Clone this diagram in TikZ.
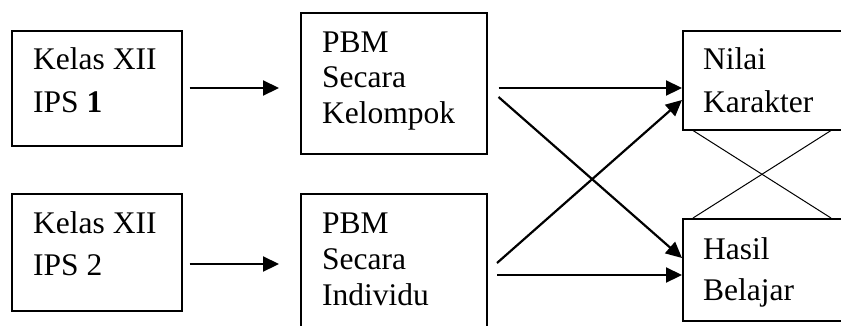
\documentclass[tikz,border=0pt]{standalone}
\usepackage{fontspec}
\setmainfont{Liberation Serif}
\usetikzlibrary{arrows.meta,calc}
\begin{document}
\begin{tikzpicture}[x=1pt,y=-1pt,
  boxx/.style={draw,line width=1.5pt,rectangle,inner sep=0pt,anchor=north west},
  txt/.style={anchor=base west,inner sep=0pt,align=left,font=\fontsize{31.5}{#1}\selectfont},
  txt/.default=43,
  arr/.style={line width=2.2pt,-{Triangle[length=16pt,width=15pt]}},
  thin/.style={line width=1pt}]
\useasboundingbox (0,0) rectangle (841,325);
\clip (0,0) rectangle (841,325);
% boxes
\node[boxx,minimum width=170pt,minimum height=115pt] (k1) at (11,30) {};
\node[boxx,minimum width=170pt,minimum height=117pt] (k2) at (11,193) {};
\node[boxx,minimum width=186pt,minimum height=141pt] (p1) at (300,12) {};
\node[boxx,minimum width=186pt,minimum height=150pt] (p2) at (300,193) {};
\node[boxx,minimum width=180pt,minimum height=99pt] (n) at (682,30) {};
\node[boxx,minimum width=180pt,minimum height=102pt] (h) at (682,218) {};
% texts (anchor = baseline of the last line)
\node[txt=43] (tk1) at (33,112) {Kelas XII\\IPS \textbf{1}};
\node[txt=42] (tk2) at (33,275) {Kelas XII\\IPS 2};
\node[txt=35.5] (tp1) at (322,123) {PBM\\Secara\\Kelompok};
\node[txt=36] (tp2) at (322,305) {PBM\\Secara\\Individu};
\node[txt=43] (tn) at (703,112) {Nilai\\Karakter};
\node[txt=41] (th) at (703,300) {Hasil\\Belajar};
% connector end points
\coordinate (a1s) at ($(k1.north east)+(7,58)$);
\coordinate (a2s) at ($(k2.north east)+(7,71)$);
\coordinate (b1s) at ($(p1.north east)+(11,76)$);
\coordinate (b2s) at ($(p1.north east)+(11,85)$);
\coordinate (b3s) at ($(p2.north west)+(197,70)$);
\coordinate (b4s) at ($(p2.north west)+(197,82)$);
% arrows
\draw[arr] (a1s) -- ($(a1s -| p1.west)+(-21,0)$);
\draw[arr] (a2s) -- ($(a2s -| p2.west)+(-21,0)$);
\draw[arr] (b1s) -- (b1s -| n.west);
\draw[arr] (b2s) -- ($(h.north west)+(0,40)$);
\draw[arr] (b3s) -- ($(n.north west)+(0,70)$);
\draw[arr] (b4s) -- (b4s -| h.west);
% thin crossing lines
\draw[thin] ($(n.south west)+(11,0)$) -- ($(h.north west)+(149,0)$);
\draw[thin] ($(n.south west)+(149,0)$) -- ($(h.north west)+(11,0)$);
\end{tikzpicture}
\end{document}
